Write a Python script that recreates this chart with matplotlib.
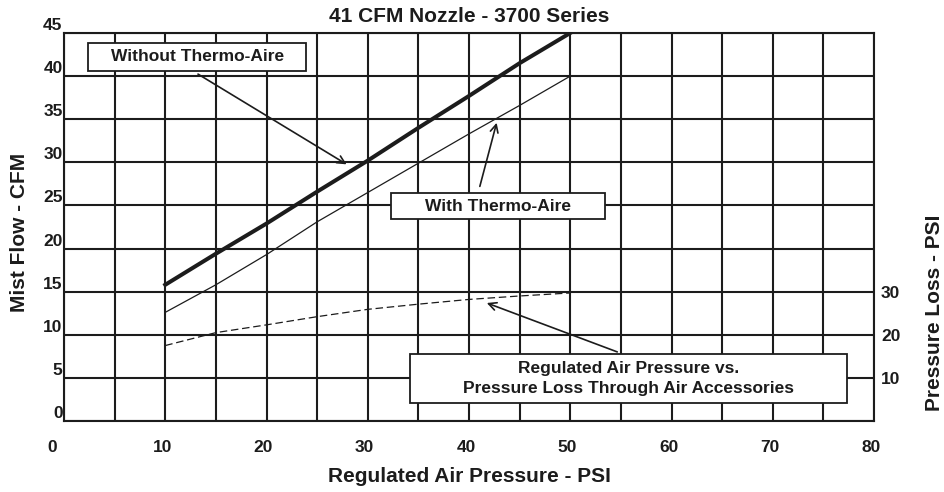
import matplotlib
matplotlib.use("Agg")
import matplotlib.pyplot as plt
from matplotlib.patches import Rectangle
from matplotlib.transforms import ScaledTranslation

plt.rcParams['font.family'] = ['Liberation Sans', 'DejaVu Sans']
plt.rcParams['font.weight'] = 'bold'

# Datos
pressure = [10, 15, 20, 25, 30, 35, 40, 45, 50]
without_thermo = [15.8, 19.4, 22.9, 26.6, 30.2, 34.0, 37.7, 41.5, 45.0]
with_thermo = [12.6, 15.8, 19.3, 23.1, 26.5, 29.9, 33.3, 36.6, 40.0]
pressure_loss = [17.5, 20.5, 22.3, 24.2, 25.9, 27.1, 28.2, 29.0, 29.7]

x_ticks = [0, 10, 20, 30, 40, 50, 60, 70, 80]
y_ticks = [0, 5, 10, 15, 20, 25, 30, 35, 40, 45]
loss_ticks = [10, 20, 30]

ink = '#1c1c1c'

fig = plt.figure(figsize=(9.44, 4.92), dpi=100)
ax = fig.add_axes([64 / 944, 1 - 421 / 492, 810 / 944, 388 / 492])

# Rejilla cada 5 unidades
ax.set_xlim(0, 80)
ax.set_ylim(0, 45)
ax.set_xticks(range(0, 81, 5), minor=True)
ax.set_xticks(x_ticks)
ax.set_yticks(y_ticks)
ax.grid(True, which='both', color=ink, linewidth=1.5)
ax.tick_params(which='both', length=0, labelsize=12.5, colors=ink)
ax.tick_params(axis='x', pad=14)
ax.tick_params(axis='y', pad=1)
for s in ax.spines.values():
    s.set_color(ink)
    s.set_linewidth(1.5)
ax.set_axisbelow(True)

# Desplazar etiquetas como en el original
for lab in ax.get_yticklabels():
    lab.set_transform(lab.get_transform() + ScaledTranslation(0, 0.09, fig.dpi_scale_trans))
for lab in ax.get_xticklabels():
    dx = -0.12 if lab.get_text() == '0' else -0.03
    lab.set_transform(lab.get_transform() + ScaledTranslation(dx, 0, fig.dpi_scale_trans))

ax.plot(pressure, without_thermo, color=ink, linewidth=2.9, zorder=3)
ax.plot(pressure, with_thermo, color=ink, linewidth=0.9, zorder=3)

# Eje derecho: perdida de presion
ax2 = ax.twinx()
ax2.set_ylim(0, 90)
ax2.set_yticks(loss_ticks)
ax2.tick_params(length=0, labelsize=12.5, colors=ink, pad=5)
for s in ax2.spines.values():
    s.set_visible(False)
ax2.plot(pressure, pressure_loss, color=ink, linewidth=0.9, dashes=(6, 3), zorder=3)

fig.text(469 / 944, 1 - 16 / 492, '41 CFM Nozzle - 3700 Series', ha='center', va='center',
         fontsize=15, fontweight='bold', color=ink)
fig.text(469 / 944, 1 - 477 / 492, 'Regulated Air Pressure - PSI', ha='center', va='center',
         fontsize=15, fontweight='bold', color=ink)
fig.text(20 / 944, 1 - 232 / 492, 'Mist Flow - CFM', rotation=90, ha='center', va='center',
         fontsize=15, fontweight='bold', color=ink)
fig.text(934 / 944, 1 - 313 / 492, 'Pressure Loss - PSI', rotation=90, ha='center', va='center',
         fontsize=15, fontweight='bold', color=ink)

# Cuadros de anotacion
boxes = [
    (2.4, 40.6, 21.5, 3.25, ['Without Thermo-Aire']),
    (32.3, 23.4, 21.1, 3.05, ['With Thermo-Aire']),
    (34.2, 2.1, 43.1, 5.7, ['Regulated Air Pressure vs.', 'Pressure Loss Through Air Accessories']),
]
for x0, y0, w, h, lines in boxes:
    ax.add_patch(Rectangle((x0, y0), w, h, facecolor='white', edgecolor=ink, linewidth=1.3, zorder=5))
    ax.text(x0 + w / 2, y0 + h / 2, '\n'.join(lines), ha='center', va='center', fontsize=12.5,
            fontweight='bold', color=ink, linespacing=1.4, zorder=6)

arrow = dict(arrowstyle='->', color=ink, linewidth=1.2, mutation_scale=14)
ax.annotate('', xy=(28.15, 29.6), xytext=(13.0, 40.4), arrowprops=arrow, zorder=4)
ax.annotate('', xy=(42.8, 34.9), xytext=(41.0, 26.9), arrowprops=arrow, zorder=4)
ax.annotate('', xy=(41.5, 13.8), xytext=(54.9, 7.9), arrowprops=arrow, zorder=4)

fig.savefig('out.png', dpi=100)
